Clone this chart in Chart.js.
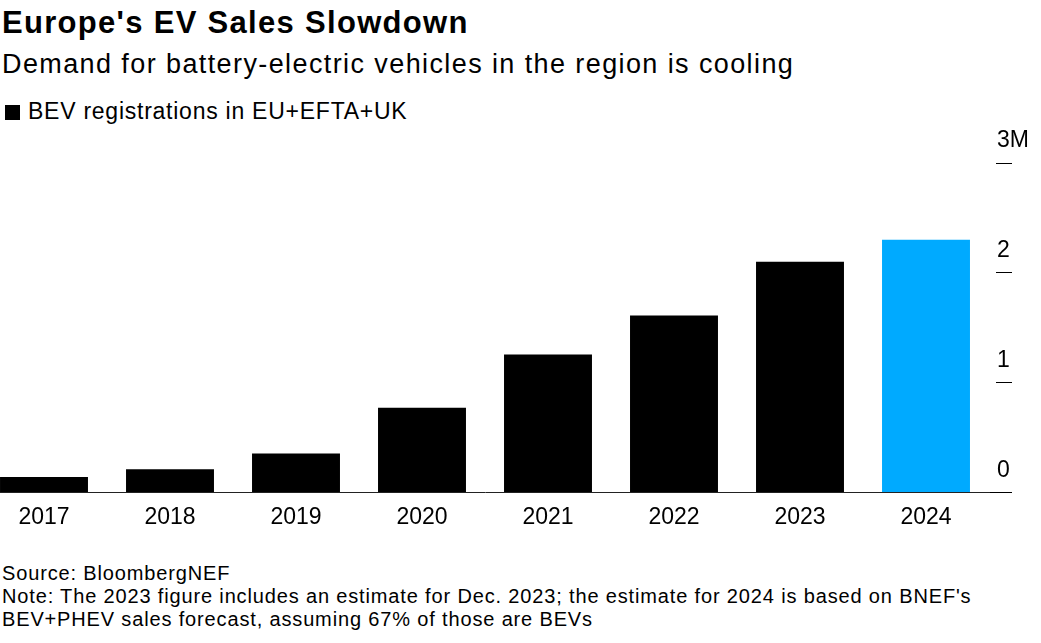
<!DOCTYPE html>
<html>
<head>
<meta charset="utf-8">
<script src="https://cdn.jsdelivr.net/npm/chart.js@4.4.1/dist/chart.umd.min.js"></script>
<style>
  body { margin: 0; background: #fff; width: 1041px; height: 643px; overflow: hidden; position: relative; font-family: "Liberation Sans", Arial, sans-serif; color: #000; }
  .txt { position: absolute; left: 2px; white-space: nowrap; line-height: 1; }
  #title { top: 7px; font-size: 31px; font-weight: bold; letter-spacing: 1.3px; }
  #subtitle { top: 51px; font-size: 27px; letter-spacing: 1.4px; }
  #legend { top: 100px; left: 5px; font-size: 23px; letter-spacing: 0.75px; }
  #legend span { display: inline-block; width: 15px; height: 15px; background: #000; margin-right: 8px; vertical-align: -1px; }
  #footer { top: 562px; font-size: 20px; line-height: 23px; letter-spacing: 0.85px; white-space: normal; width: 1040px; }
  #wrap { position: absolute; left: -19px; top: 125px; width: 1060px; height: 420px; }
</style>
</head>
<body>
<div class="txt" id="title">Europe's EV Sales Slowdown</div>
<div class="txt" id="subtitle">Demand for battery-electric vehicles in the region is cooling</div>
<div class="txt" id="legend"><span></span>BEV registrations in EU+EFTA+UK</div>
<div id="wrap"><canvas id="grafico" width="1060" height="420"></canvas></div>
<div class="txt" id="footer">Source: BloombergNEF<br>Note: The 2023 figure includes an estimate for Dec. 2023; the estimate for 2024 is based on BNEF's<br>BEV+PHEV sales forecast, assuming 67% of those are BEVs</div>
<script>
const years = ['2017', '2018', '2019', '2020', '2021', '2022', '2023', '2024']
const bevSales = [0.14, 0.21, 0.355, 0.77, 1.255, 1.61, 2.1, 2.3]   // millions
const yTicks = [0, 1, 2, 3]
const forecastYear = '2024'

const colores = years.map((y) => y === forecastYear ? '#00aaff' : '#000000')

const config = {
  type: 'bar',
  data: {
    labels: years,
    datasets: [{
      label: 'BEV registrations in EU+EFTA+UK',
      data: bevSales,
      backgroundColor: colores,
      categoryPercentage: 1,
      barPercentage: 0.698
    }]
  },
  options: {
    responsive: false,
    animation: false,
    devicePixelRatio: 1,
    layout: { padding: { top: 38, left: 0, right: 0, bottom: 3 } },
    plugins: { legend: { display: false }, tooltip: { enabled: false } },
    scales: {
      x: {
        grid: { display: false, drawTicks: false },
        border: { display: true, color: '#222', width: 1 },
        ticks: { color: '#000', font: { family: 'Liberation Sans', size: 23 }, padding: 11 }
      },
      y: {
        position: 'right',
        min: 0,
        max: 3,
        afterBuildTicks: (scale) => { scale.ticks = yTicks.map((v) => ({ value: v })) },
        afterFit: (scale) => { scale.width = 52 },
        border: { display: false },
        grid: {
          drawOnChartArea: false,
          drawTicks: true,
          tickLength: 23,
          tickColor: '#000',
          tickWidth: 1,
          tickBorderDash: (ctx) => ctx.tick && ctx.tick.value === 0 ? [] : [0, 7, 17, 100]
        },
        ticks: {
          color: '#000',
          padding: -15,
          labelOffset: -22,
          font: { family: 'Liberation Sans', size: 23 },
          callback: (v) => v === 3 ? '3M' : v
        }
      }
    }
  }
}

new Chart(document.getElementById('grafico'), config)
</script>
</body>
</html>
